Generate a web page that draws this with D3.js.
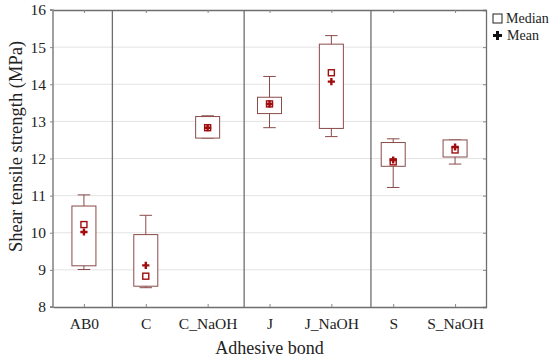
<!DOCTYPE html>
<html><head><meta charset="utf-8">
<script src="https://cdn.jsdelivr.net/npm/d3@7"></script>
<style>body{margin:0;background:#fff} text{font-family:'Liberation Serif',serif}</style>
</head><body>
<svg id="c" width="550" height="359"></svg>
<script>
const categories = ["AB0","C","C_NaOH","J","J_NaOH","S","S_NaOH"];
const whiskerLow  = [9.01, 8.52, 12.55, 12.83, 12.59, 11.22, 11.85];
const boxLow      = [9.11, 8.56, 12.55, 13.21, 12.81, 11.79, 12.04];
const medians     = [10.22, 8.83, 12.83, 13.47, 14.31, 11.91, 12.23];
const means       = [10.02, 9.12, 12.83, 13.47, 14.07, 11.96, 12.31];
const boxHigh     = [10.72, 9.95, 13.13, 13.65, 15.08, 12.43, 12.50];
const whiskerHigh = [11.02, 10.47, 13.15, 14.21, 15.31, 12.53, 12.50];
const yTicks = [8,9,10,11,12,13,14,15,16];
const separators = [0.46, 2.59, 4.64]; // in category-index units

const svg = d3.select("#c");
const L=53, R=486, T=10, B=307;
const font = "'Liberation Serif', serif";
const x = d3.scalePoint().domain(categories).range([L,R]).padding(0.5);
const xi = d3.scaleLinear().domain([0, categories.length-1]).range([x(categories[0]), x(categories[categories.length-1])]);
const y = d3.scaleLinear().domain([8,16]).range([B,T]);

// grid
svg.append("g").selectAll("line").data(yTicks.slice(1,-1)).join("line")
  .attr("x1",L).attr("x2",R).attr("y1",d=>y(d)).attr("y2",d=>y(d))
  .attr("stroke","#e3e3e3").attr("stroke-width",1);

// separators
svg.append("g").selectAll("line").data(separators).join("line")
  .attr("x1",d=>xi(d)).attr("x2",d=>xi(d)).attr("y1",T).attr("y2",B)
  .attr("stroke","#6e6e6e").attr("stroke-width",1.3);

// axes
const axL = svg.append("g").attr("transform",`translate(${L},0)`)
  .call(d3.axisLeft(y).tickValues(yTicks).tickSize(3).tickPadding(4));
const axR = svg.append("g").attr("transform",`translate(${R},0)`)
  .call(d3.axisLeft(y).tickValues(yTicks).tickSize(3).tickFormat(""));
const axB = svg.append("g").attr("transform",`translate(0,${B})`)
  .call(d3.axisBottom(x).tickSizeInner(-3).tickSizeOuter(0).tickPadding(11));
const axT = svg.append("g").attr("transform",`translate(0,${T})`)
  .call(d3.axisBottom(x).tickSizeInner(3).tickSizeOuter(0).tickFormat(""));
[axL,axR,axB,axT].forEach(a=>{
  a.attr("font-family",font);
  a.selectAll("path").attr("stroke","#6e6e6e").attr("stroke-width",1.3);
  a.selectAll("line").attr("stroke","#888");
  a.selectAll("text").style("font-family",font).attr("font-size",15.5).attr("fill","#222");
});
axR.selectAll("line").attr("x2",-3);
axL.select("path").attr("d",`M-3,${B}H0V${T}H-3`);

// boxes
const bw = 24, cw = 12.5;
const g = svg.append("g");
const idx = d3.range(categories.length);
const boxColor = "#8a4a4a";
g.selectAll(".wv").data(idx).join("line")
  .attr("x1",i=>x(categories[i])).attr("x2",i=>x(categories[i]))
  .attr("y1",i=>y(whiskerLow[i])).attr("y2",i=>y(whiskerHigh[i]))
  .attr("stroke",boxColor).attr("stroke-width",1);
g.selectAll(".cap").data(idx.flatMap(i=>[[i,whiskerLow[i]],[i,whiskerHigh[i]]])).join("line")
  .attr("x1",d=>x(categories[d[0]])-cw/2).attr("x2",d=>x(categories[d[0]])+cw/2)
  .attr("y1",d=>y(d[1])).attr("y2",d=>y(d[1]))
  .attr("stroke",boxColor).attr("stroke-width",1);
g.selectAll("rect").data(idx).join("rect")
  .attr("x",i=>x(categories[i])-bw/2).attr("width",bw)
  .attr("y",i=>y(boxHigh[i])).attr("height",i=>y(boxLow[i])-y(boxHigh[i]))
  .attr("fill","#fff").attr("stroke",boxColor).attr("stroke-width",1);

const markColor = "#a00d0d";
const plus = "M-1.2,-3.6H1.2V-1.2H3.6V1.2H1.2V3.6H-1.2V1.2H-3.6V-1.2H-1.2Z";
g.selectAll(".med").data(idx).join("rect")
  .attr("x",i=>x(categories[i])-3).attr("y",i=>y(medians[i])-3)
  .attr("width",6).attr("height",6)
  .attr("fill","none").attr("stroke",markColor).attr("stroke-width",1.4);
g.selectAll(".mean").data(idx).join("path")
  .attr("transform",i=>`translate(${x(categories[i])},${y(means[i])})`)
  .attr("d",plus).attr("fill",markColor);

// labels
svg.append("text").attr("x",(L+R)/2).attr("y",354).attr("text-anchor","middle")
  .style("font-family",font).attr("font-size",18).attr("fill","#222").text("Adhesive bond");
svg.append("text").attr("transform",`translate(22,${(T+B)/2-12}) rotate(-90)`).attr("text-anchor","middle")
  .style("font-family",font).attr("font-size",18.5).attr("fill","#222").text("Shear tensile strength (MPa)");

// legend
const lg = svg.append("g");
lg.append("rect").attr("x",493).attr("y",14).attr("width",9).attr("height",9)
  .attr("fill","#fff").attr("stroke","#222").attr("stroke-width",1);
lg.append("text").attr("x",506).attr("y",23).style("font-family",font).attr("font-size",14).attr("fill","#222").text("Median");
lg.append("path").attr("transform","translate(497.5,35.5) scale(1.25)").attr("d",plus).attr("fill","#111");
lg.append("text").attr("x",507).attr("y",40).style("font-family",font).attr("font-size",14).attr("fill","#222").text("Mean");
</script>
</body></html>
